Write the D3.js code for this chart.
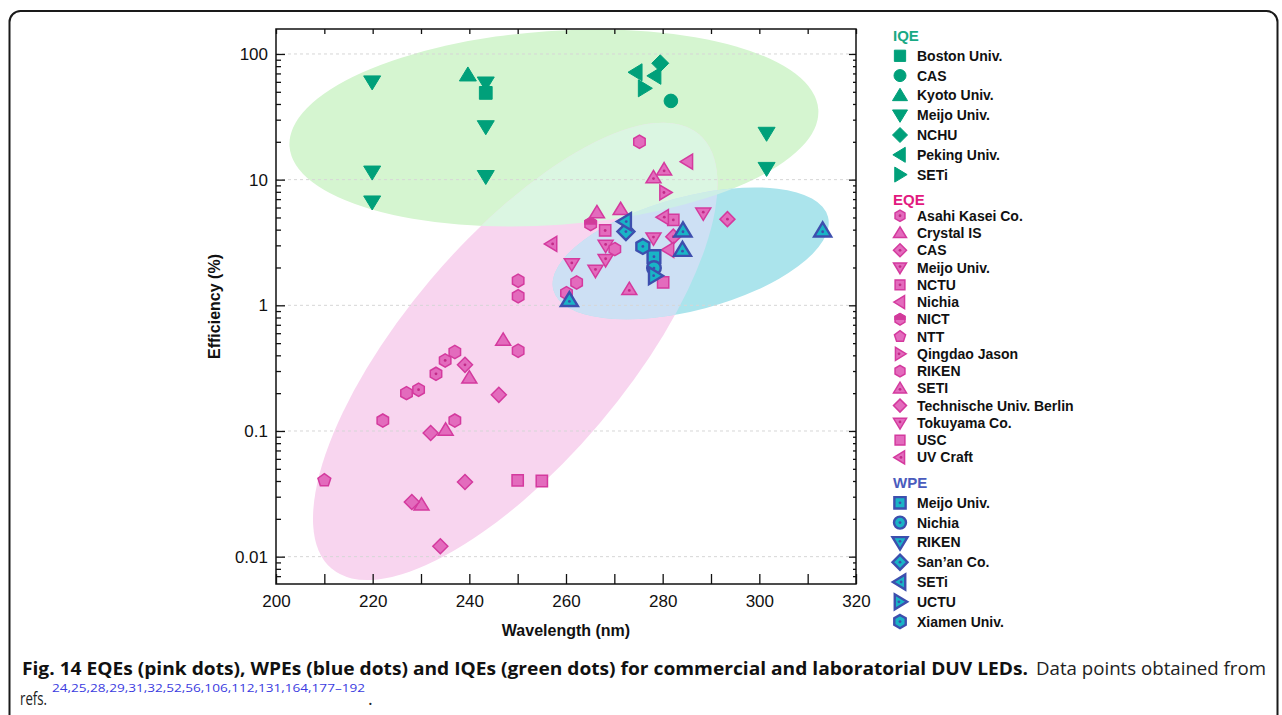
<!DOCTYPE html>
<html lang="en">
<head>
<meta charset="UTF-8">
<title>DUV LED efficiency</title>
<script src="https://cdnjs.cloudflare.com/ajax/libs/d3/7.8.5/d3.min.js"></script>
<style>
  body { margin: 0; background: #fff; }
</style>
</head>
<body>
<div class="chart"></div>
<script>
// ---- data: [group member, wavelength (nm), efficiency (%)]
const iqeNames = ['Boston Univ.', 'CAS', 'Kyoto Univ.', 'Meijo Univ.', 'NCHU', 'Peking Univ.', 'SETi']
const eqeNames = ['Asahi Kasei Co.', 'Crystal IS', 'CAS', 'Meijo Univ.', 'NCTU', 'Nichia', 'NICT', 'NTT',
  'Qingdao Jason', 'RIKEN', 'SETI', 'Technische Univ. Berlin', 'Tokuyama Co.', 'USC', 'UV Craft']
const wpeNames = ['Meijo Univ.', 'Nichia', 'RIKEN', "San\u2019an Co.", 'SETi', 'UCTU', 'Xiamen Univ.']

const iqeData = [
  ['Boston Univ.', 243.4, 49],
  ['CAS', 281.7, 42.3],
  ['Kyoto Univ.', 239.7, 68],
  ['Meijo Univ.', 219.9, 60], ['Meijo Univ.', 219.9, 11.5], ['Meijo Univ.', 219.9, 6.65],
  ['Meijo Univ.', 243.4, 58.8], ['Meijo Univ.', 243.4, 26.4], ['Meijo Univ.', 243.4, 10.6],
  ['Meijo Univ.', 301.5, 23.4], ['Meijo Univ.', 301.5, 12.3],
  ['NCHU', 279.5, 84.3],
  ['Peking Univ.', 274.5, 71.5], ['Peking Univ.', 278.4, 67],
  ['SETi', 276.2, 53.3]
]
const eqeData = [
  ['Asahi Kasei Co.', 229.5, 0.213], ['Asahi Kasei Co.', 233.1, 0.285], ['Asahi Kasei Co.', 235, 0.364],
  ['Crystal IS', 266.4, 5.47], ['Crystal IS', 271.3, 5.8], ['Crystal IS', 247, 0.53],
  ['Crystal IS', 240, 0.265], ['Crystal IS', 235.1, 0.102], ['Crystal IS', 230.1, 0.0259],
  ['CAS', 293.4, 4.85], ['CAS', 282.2, 3.52], ['CAS', 239.1, 0.336],
  ['Meijo Univ.', 268.2, 2.99], ['Meijo Univ.', 268.2, 2.3], ['Meijo Univ.', 261.2, 2.13], ['Meijo Univ.', 278.1, 3.42],
  ['NCTU', 268.1, 3.94], ['NCTU', 282.2, 4.78],
  ['Nichia', 281.2, 2.76], ['Nichia', 285.1, 13.9],
  ['NICT', 265.1, 4.43],
  ['NTT', 210, 0.0405],
  ['Qingdao Jason', 280.5, 7.9],
  ['RIKEN', 227, 0.2], ['RIKEN', 222.1, 0.121], ['RIKEN', 237, 0.121], ['RIKEN', 237, 0.425],
  ['RIKEN', 250.1, 1.57], ['RIKEN', 250.1, 1.18], ['RIKEN', 250.1, 0.435], ['RIKEN', 275.2, 20],
  ['RIKEN', 270.1, 2.8], ['RIKEN', 262.2, 1.52], ['RIKEN', 260.1, 1.25],
  ['SETI', 280.3, 12], ['SETI', 278.1, 10.4], ['SETI', 273.1, 1.34],
  ['Technische Univ. Berlin', 246.1, 0.194], ['Technische Univ. Berlin', 232, 0.0963],
  ['Technische Univ. Berlin', 239.1, 0.0393], ['Technische Univ. Berlin', 228.1, 0.0272],
  ['Technische Univ. Berlin', 234, 0.0121],
  ['Tokuyama Co.', 288.4, 5.4], ['Tokuyama Co.', 266.1, 1.89],
  ['USC', 280.1, 1.52], ['USC', 250, 0.0405], ['USC', 255, 0.04],
  ['UV Craft', 280.1, 5.03], ['UV Craft', 257, 3.08]
]
const wpeData = [
  ['Meijo Univ.', 278.2, 2.44],
  ['Nichia', 278.2, 1.98],
  ['RIKEN', 284.2, 3.94], ['RIKEN', 284.1, 2.76], ['RIKEN', 313.1, 3.94], ['RIKEN', 260.7, 1.1],
  ["San\u2019an Co.", 272.4, 3.86],
  ['SETi', 272.2, 4.64],
  ['UCTU', 278.4, 1.72],
  ['Xiamen Univ.', 275.9, 2.94]
]

// shaded regions: [centre, end of major axis, minor/major ratio] in data units
const iqeRegion = [[257.5, 25.8], [312.2, 36.2], 0.366]
const eqeRegion = [[249.5, 0.43], [287.5, 23], 0.39]
const wpeRegion = [[285.8, 2.59], [314.2, 5.06], 0.40]

const xTicks = d3.range(200, 321, 10)
const yMajor = [0.01, 0.1, 1, 10, 100]
const yTickLabels = ['0.01', '0.1', '1', '10', '100']

// ---- symbols
const iqeSymbols = ['square', 'circle', 'triUp', 'triDown', 'diamond', 'triLeft', 'triRight']
const eqeSymbols = ['hexDot', 'triUp', 'diamondDot', 'triDownDot', 'squareDot', 'triLeft', 'hexHalf', 'pentagon',
  'triRightDot', 'hex', 'triUpDot', 'diamond', 'triDownDot', 'square', 'triLeftDot']
const wpeSymbols = ['squareDot', 'circleDot', 'triDownDot', 'diamondDot', 'triLeftDot', 'triRightDot', 'hexDot']
const wpePlotSymbols = wpeSymbols.map((s, i) => wpeNames[i] === 'RIKEN' ? 'triUpDot' : s)

const styles = {
  iqe: { fill: '#00a07a', stroke: '#00a07a', sw: 1, dot: '#00a07a', half: '#00a07a', r: 8.5 },
  eqe: { fill: '#e36bbd', stroke: '#d43a9e', sw: 1.5, dot: '#c22a88', half: '#cf3c98', r: 7.5 },
  wpe: { fill: '#19b4c6', stroke: '#3d4fae', sw: 2.4, dot: '#3d4fae', half: '#3d4fae', r: 8.5 }
}

const width = 1282
const height = 715
const plot = { left: 276, right: 856, top: 29, bottom: 584 }

const svg = d3.select('.chart').append('svg')
  .attr('width', width).attr('height', height)
  .attr('font-family', '"Liberation Sans", Arial, sans-serif')

const xScale = d3.scaleLinear().domain([200, 320]).range([plot.left, plot.right])
const yScale = d3.scaleLog().domain([0.00606, 158]).range([plot.bottom, plot.top])

function poly(pts) {
  return 'M' + pts.map(p => p[0].toFixed(2) + ',' + p[1].toFixed(2)).join('L') + 'Z'
}
function ngon(n, r, start) {
  return d3.range(n).map(k => {
    const a = (start + k * 360 / n) * Math.PI / 180
    return [r * Math.cos(a), r * Math.sin(a)]
  })
}
function shapePath(base, r) {
  switch (base) {
    case 'square': { const h = r * 0.75; return poly([[-h, -h], [h, -h], [h, h], [-h, h]]) }
    case 'circle': { const c = r * 0.8; return `M${-c},0A${c},${c} 0 1,0 ${c},0A${c},${c} 0 1,0 ${-c},0Z` }
    case 'triUp': return poly([[0, -0.95 * r], [r, 0.7 * r], [-r, 0.7 * r]])
    case 'triDown': return poly([[0, 0.95 * r], [r, -0.7 * r], [-r, -0.7 * r]])
    case 'triLeft': return poly([[-0.95 * r, 0], [0.7 * r, -r], [0.7 * r, r]])
    case 'triRight': return poly([[0.95 * r, 0], [-0.7 * r, -r], [-0.7 * r, r]])
    case 'diamond': return poly([[0, -r], [r, 0], [0, r], [-r, 0]])
    case 'hex': return poly(ngon(6, r * 0.88, -90))
    case 'pentagon': return poly(ngon(5, r * 0.9, -90))
  }
}
function drawSymbol(g, type, r, st) {
  const base = type.replace(/Dot|Half/, '')
  g.append('path').attr('d', shapePath(base, r))
    .attr('fill', st.fill).attr('stroke', st.stroke).attr('stroke-width', st.sw)
    .attr('stroke-linejoin', 'miter')
  if (type.endsWith('Half')) {
    const h = r * 0.88
    g.append('path')
      .attr('d', poly([[-0.866 * h, 0], [-0.866 * h, -0.5 * h], [0, -h], [0.866 * h, -0.5 * h], [0.866 * h, 0]]))
      .attr('fill', st.half).attr('stroke', st.stroke).attr('stroke-width', st.sw)
  }
  if (type.endsWith('Dot')) {
    let dy = 0
    if (base === 'triUp') dy = 0.15 * r
    if (base === 'triDown') dy = -0.15 * r
    let dx = 0
    if (base === 'triLeft') dx = 0.15 * r
    if (base === 'triRight') dx = -0.15 * r
    g.append('circle').attr('cx', dx).attr('cy', dy).attr('r', 1.4).attr('fill', st.dot)
  }
}

// ---- outer panel border
svg.append('rect')
  .attr('x', 9.5).attr('y', 11).attr('width', 1268).attr('height', 740)
  .attr('rx', 11).attr('fill', 'none').attr('stroke', '#1a1a1a').attr('stroke-width', 2)

// ---- shaded regions
function ellipseGeom(reg) {
  const cx = xScale(reg[0][0]), cy = yScale(reg[0][1])
  const mx = xScale(reg[1][0]), my = yScale(reg[1][1])
  const a = Math.hypot(mx - cx, my - cy)
  return { cx, cy, rx: a, ry: a * reg[2], ang: Math.atan2(my - cy, mx - cx) * 180 / Math.PI }
}
const regions = {
  green: ellipseGeom(iqeRegion),
  pink: ellipseGeom(eqeRegion),
  cyan: ellipseGeom(wpeRegion)
}
function addEllipse(sel, e) {
  return sel.append('ellipse')
    .attr('cx', 0).attr('cy', 0).attr('rx', e.rx).attr('ry', e.ry)
    .attr('transform', `translate(${e.cx},${e.cy}) rotate(${e.ang})`)
}
const defs = svg.append('defs')
Object.keys(regions).forEach(k => {
  addEllipse(defs.append('clipPath').attr('id', 'clip-' + k), regions[k])
})
const gReg = svg.append('g')
addEllipse(gReg, regions.green).attr('fill', '#d5f5d0')
addEllipse(gReg, regions.pink).attr('fill', '#f8d5ef')
addEllipse(gReg, regions.cyan).attr('fill', '#abe4ec')
addEllipse(gReg.append('g').attr('clip-path', 'url(#clip-green)'), regions.pink).attr('fill', '#dbf6e2')
addEllipse(gReg.append('g').attr('clip-path', 'url(#clip-pink)'), regions.cyan).attr('fill', '#cde0f4')
addEllipse(gReg.append('g').attr('clip-path', 'url(#clip-green)'), regions.cyan).attr('fill', '#cdeee6')

// ---- grid
svg.append('g').selectAll('line').data(yMajor).join('line')
  .attr('x1', plot.left).attr('x2', plot.right)
  .attr('y1', d => yScale(d)).attr('y2', d => yScale(d))
  .attr('stroke', '#d6d6d6').attr('stroke-width', 1).attr('stroke-dasharray', '3,3')

// ---- points
function drawPoints(data, names, symbols, st) {
  const g = svg.append('g')
  data.forEach(d => {
    const sym = symbols[names.indexOf(d[0])]
    const p = g.append('g').attr('transform', `translate(${xScale(d[1])},${yScale(d[2])})`)
    drawSymbol(p, sym, st.r, st)
  })
}
drawPoints(iqeData, iqeNames, iqeSymbols, styles.iqe)
drawPoints(eqeData, eqeNames, eqeSymbols, styles.eqe)
drawPoints(wpeData, wpeNames, wpePlotSymbols, styles.wpe)

// ---- axes
const yMinor = []
for (let e = -3; e <= 2; e++) for (let m = 2; m <= 9; m++) {
  const v = m * Math.pow(10, e)
  if (v > 0.00606 && v < 158) yMinor.push(v)
}
function styleAxis(g) {
  g.select('.domain').remove()
  g.selectAll('.tick line').attr('stroke', '#111').attr('stroke-width', 1.3)
  g.selectAll('.tick text').attr('fill', '#111').attr('font-size', 17)
    .attr('font-family', '"Liberation Sans", Arial, sans-serif')
}
svg.append('g').attr('transform', `translate(0,${plot.bottom})`)
  .call(d3.axisBottom(xScale).tickValues(xTicks).tickSizeInner(-10).tickSizeOuter(0).tickPadding(11)
    .tickFormat(d => d % 20 === 0 ? d : ''))
  .call(styleAxis)
svg.append('g').attr('transform', `translate(0,${plot.top})`)
  .call(d3.axisTop(xScale).tickValues(xTicks).tickSizeInner(-5).tickSizeOuter(0).tickFormat(''))
  .call(styleAxis)
svg.append('g').attr('transform', `translate(${plot.left},0)`)
  .call(d3.axisLeft(yScale).tickValues(yMajor).tickSizeInner(-9).tickSizeOuter(0).tickPadding(8)
    .tickFormat((d, i) => yTickLabels[i]))
  .call(styleAxis)
svg.append('g').attr('transform', `translate(${plot.left},0)`)
  .call(d3.axisLeft(yScale).tickValues(yMinor).tickSizeInner(-5).tickSizeOuter(0).tickFormat(''))
  .call(styleAxis)
svg.append('g').attr('transform', `translate(${plot.right},0)`)
  .call(d3.axisRight(yScale).tickValues(yMajor).tickSizeInner(-7).tickSizeOuter(0).tickFormat(''))
  .call(styleAxis)
svg.append('g').attr('transform', `translate(${plot.right},0)`)
  .call(d3.axisRight(yScale).tickValues(yMinor).tickSizeInner(-3).tickSizeOuter(0).tickFormat(''))
  .call(styleAxis)

svg.append('rect')
  .attr('x', plot.left).attr('y', plot.top)
  .attr('width', plot.right - plot.left).attr('height', plot.bottom - plot.top)
  .attr('fill', 'none').attr('stroke', '#111').attr('stroke-width', 1.5)

svg.append('text')
  .attr('x', (plot.left + plot.right) / 2).attr('y', 636)
  .attr('text-anchor', 'middle').attr('font-weight', 'bold').attr('font-size', 16).attr('fill', '#111')
  .text('Wavelength (nm)')
svg.append('text')
  .attr('transform', `translate(220,${(plot.top + plot.bottom) / 2}) rotate(-90)`)
  .attr('text-anchor', 'middle').attr('font-weight', 'bold').attr('font-size', 16).attr('fill', '#111')
  .text('Efficiency (%)')

// ---- legend
const legendGroups = [
  { title: 'IQE', color: '#19a984', names: iqeNames, symbols: iqeSymbols, st: styles.iqe, r: 7.5, y0: 36, step: 19.8 },
  { title: 'EQE', color: '#e2197f', names: eqeNames, symbols: eqeSymbols, st: styles.eqe, r: 6.5, y0: 200, step: 17.26 },
  { title: 'WPE', color: '#4a5bbd', names: wpeNames, symbols: wpeSymbols, st: styles.wpe, r: 7.5, y0: 483, step: 19.8 }
]
const gLeg = svg.append('g')
legendGroups.forEach(grp => {
  gLeg.append('text').attr('x', 893).attr('y', grp.y0 + 5)
    .attr('font-weight', 'bold').attr('font-size', 15).attr('fill', grp.color).text(grp.title)
  grp.names.forEach((n, i) => {
    const cy = grp.y0 + (i + 1) * grp.step - (grp.title === 'EQE' ? 1.5 : 0)
    const s = gLeg.append('g').attr('transform', `translate(900,${cy})`)
    drawSymbol(s, grp.symbols[i], grp.r, grp.st)
    gLeg.append('text').attr('x', 917).attr('y', cy + 5)
      .attr('font-weight', 'bold').attr('font-size', 14).attr('fill', '#111').text(n)
  })
})

// ---- caption
const cap = svg.append('g').attr('font-family', '"Open Sans", "Noto Sans", sans-serif')
cap.append('text').attr('x', 22).attr('y', 675).attr('font-size', 18).attr('font-weight', 'bold')
  .attr('fill', '#111').attr('textLength', 1006).attr('lengthAdjust', 'spacingAndGlyphs')
  .text('Fig. 14 EQEs (pink dots), WPEs (blue dots) and IQEs (green dots) for commercial and laboratorial DUV LEDs.')
cap.append('text').attr('x', 1036).attr('y', 675).attr('font-size', 18)
  .attr('fill', '#222').attr('textLength', 230).attr('lengthAdjust', 'spacingAndGlyphs')
  .text('Data points obtained from')
cap.append('text').attr('x', 20).attr('y', 705).attr('font-size', 18)
  .attr('fill', '#222').attr('textLength', 27).attr('lengthAdjust', 'spacingAndGlyphs').text('refs.')
cap.append('text').attr('x', 52).attr('y', 692).attr('font-size', 11)
  .attr('fill', '#3b3be0').attr('textLength', 313).attr('lengthAdjust', 'spacingAndGlyphs')
  .text('24,25,28,29,31,32,52,56,106,112,131,164,177\u2013192')
cap.append('text').attr('x', 368).attr('y', 705).attr('font-size', 18).attr('fill', '#222').text('.')
</script>
</body>
</html>
